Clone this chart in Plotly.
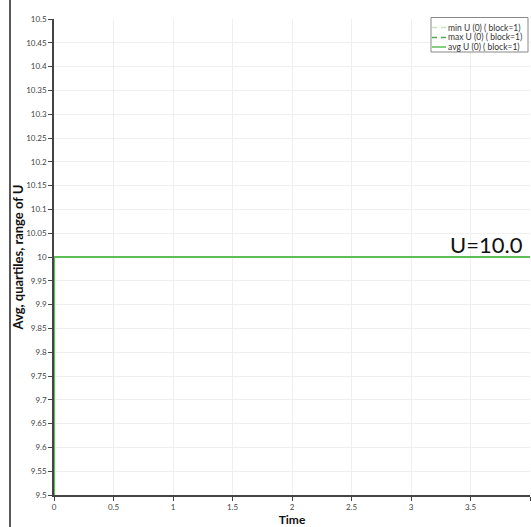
import plotly.graph_objects as go

time = [0.0, 0.001, 1.0, 2.0, 3.0, 4.0]
min_u = [0.0, 10.0, 10.0, 10.0, 10.0, 10.0]
max_u = [0.0, 10.0, 10.0, 10.0, 10.0, 10.0]
avg_u = [0.0, 10.0, 10.0, 10.0, 10.0, 10.0]

series_names = ["min U (0) ( block=1)", "max U (0) ( block=1)", "avg U (0) ( block=1)"]

y_ticks = [9.5, 9.55, 9.6, 9.65, 9.7, 9.75, 9.8, 9.85, 9.9, 9.95, 10.0,
           10.05, 10.1, 10.15, 10.2, 10.25, 10.3, 10.35, 10.4, 10.45, 10.5]
y_labels = ["9.5", "9.55", "9.6", "9.65", "9.7", "9.75", "9.8", "9.85", "9.9", "9.95", "10",
            "10.05", "10.1", "10.15", "10.2", "10.25", "10.3", "10.35", "10.4", "10.45", "10.5"]
x_ticks = [0, 0.5, 1, 1.5, 2, 2.5, 3, 3.5, 4]
x_labels = ["0", "0.5", "1", "1.5", "2", "2.5", "3", "3.5", "4"]

FONT = "Lato"
W, H = 531, 527
ML, MR, MT, MB = 54, 1, 19, 32
PW, PH = W - ML - MR, H - MT - MB


def px(X):
    return (X - ML) / PW


def py(Y):
    return 1 - (Y - MT) / PH


styles = [
    dict(color="#c8e8bc", width=1.5, dash="dash"),
    dict(color="#4fab4a", width=1.5, dash="dash"),
    dict(color="#5cbf55", width=2),
]

fig = go.Figure()
for name, vals, st in zip(series_names, [min_u, max_u, avg_u], styles):
    fig.add_trace(go.Scatter(x=time, y=vals, mode="lines", name=name, line=st,
                             showlegend=False))

fig.add_annotation(x=4, y=10.0, xref="x", yref="y", text="U=10.0", showarrow=False,
                   xanchor="right", yanchor="bottom", xshift=-5, yshift=-3,
                   font=dict(family=FONT, size=22, color="#111111"))

# left separator line
fig.add_shape(type="line", xref="paper", yref="paper",
              x0=px(10), x1=px(10), y0=py(H + 5), y1=py(-5),
              line=dict(color="#222222", width=1.5))

# legend box
fig.add_shape(type="rect", xref="paper", yref="paper",
              x0=px(431), x1=px(528), y0=py(52), y1=py(17.5),
              line=dict(color="#888888", width=1), fillcolor="white", layer="above")
rows_y = [27.5, 37.5, 47.0]
for name, st, ry in zip(series_names, styles, rows_y):
    dash = "5px,4px" if st.get("dash") else "solid"
    fig.add_shape(type="line", xref="paper", yref="paper",
                  x0=px(432), x1=px(446), y0=py(ry), y1=py(ry),
                  line=dict(color=st["color"], width=1.5, dash=dash), layer="above")
    fig.add_annotation(x=px(446), y=py(ry), xref="paper", yref="paper", text=name,
                       showarrow=False, xanchor="left", yanchor="middle",
                       font=dict(family=FONT, size=8.5, color="#333333"))

fig.update_layout(
    width=W, height=H,
    margin=dict(l=ML, r=MR, t=MT, b=MB),
    paper_bgcolor="white", plot_bgcolor="white",
    font=dict(family=FONT, size=8, color="#444444"),
    showlegend=False,
    xaxis=dict(range=[0, 4], tickvals=x_ticks, ticktext=x_labels,
               showgrid=True, gridcolor="#efefef", gridwidth=1,
               showline=True, linecolor="#444444", linewidth=1.5,
               ticks="outside", ticklen=4, tickcolor="#444444",
               zeroline=False,
               title=dict(text="<b>Time</b>", font=dict(family=FONT, size=12, color="#111111"),
                          standoff=0)),
    yaxis=dict(range=[9.5, 10.5], tickvals=y_ticks, ticktext=y_labels,
               showgrid=True, gridcolor="#efefef", gridwidth=1,
               showline=True, linecolor="#444444", linewidth=1.5,
               ticks="outside", ticklen=4, tickcolor="#444444",
               zeroline=False,
               title=dict(text="<b>Avg, quartiles, range of U</b>",
                          font=dict(family=FONT, size=13, color="#111111"), standoff=0)),
)

fig.write_html("out.html", config={"displayModeBar": False})

with open("out.html", "r", encoding="utf-8") as f:
    html = f.read()
html = html.replace("<body>", '<body style="margin:0;padding:0;overflow:hidden">', 1)
with open("out.html", "w", encoding="utf-8") as f:
    f.write(html)
